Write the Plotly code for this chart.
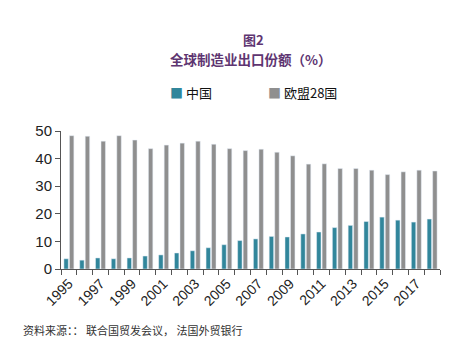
import plotly.graph_objects as go

years = [str(y) for y in range(1995, 2019)]
china = [3.7, 3.2, 4.0, 3.7, 4.0, 4.7, 5.1, 5.8, 6.6, 7.7, 8.8, 10.3,
         10.9, 11.8, 11.6, 12.7, 13.4, 15.0, 15.8, 17.2, 18.8, 17.7, 17.0, 18.1]
eu28 = [48.3, 48.1, 46.3, 48.3, 46.7, 43.6, 44.9, 45.6, 46.3, 45.2, 43.6, 42.9,
        43.4, 42.3, 41.0, 38.0, 38.1, 36.4, 36.4, 35.8, 34.2, 35.2, 35.8, 35.5]
tick_text = [y if (int(y) - 1995) % 2 == 0 else "" for y in years]
series_names = ["中国", "欧盟28国"]
series_colors = ["#31869b", "#8f8f8f"]

num_font = "Liberation Sans, Arial, sans-serif"
cjk_font = "Noto Sans CJK SC, sans-serif"

L, R, T, B, W, H = 61, 30, 131, 85, 470, 354
PW, PH = W - L - R, H - T - B


def px(x):
    return (x - L) / PW


def py(y):
    return (H - B - y) / PH


fig = go.Figure()
fig.add_trace(go.Bar(x=years, y=china, name=series_names[0], marker_color=series_colors[0]))
fig.add_trace(go.Bar(x=years, y=eu28, name=series_names[1], marker_color=series_colors[1]))

fig.update_layout(
    width=W, height=H,
    margin=dict(l=L, r=R, t=T, b=B),
    paper_bgcolor="white", plot_bgcolor="white",
    barmode="group", bargap=0.3, bargroupgap=0.2,
    font=dict(family=num_font, size=14, color="#222"),
    showlegend=False,
)

title_color = "#5e3571"
fig.add_annotation(text="<b>图2</b>", xref="paper", yref="paper", x=px(253), y=py(39.5),
                   showarrow=False, font=dict(family=cjk_font, size=13, color=title_color),
                   yanchor="middle", borderpad=0)
fig.add_annotation(text="<b>全球制造业出口份额（%）</b>", xref="paper", yref="paper", x=px(251), y=py(59),
                   showarrow=False, font=dict(family=cjk_font, size=13.5, color=title_color),
                   yanchor="middle", borderpad=0)
# legend built as annotations (small square markers like the reference)
for name, color, xl in zip(series_names, series_colors, [168, 266]):
    fig.add_annotation(text=f'<span style="color:{color}">■</span> {name}', xref="paper", yref="paper",
                       x=px(xl), xanchor="left", y=py(92), yanchor="middle", showarrow=False,
                       font=dict(family=cjk_font, size=13, color="#111"))
fig.add_annotation(text="资料来源：： 联合国贸发会议， 法国外贸银行", xref="paper", yref="paper",
                   x=px(21), xanchor="left", y=py(330), yanchor="middle",
                   showarrow=False, font=dict(family=cjk_font, size=11, color="#333"))

fig.update_xaxes(
    type="category", tickmode="array", tickvals=years, ticktext=tick_text,
    tickangle=-45, tickson="boundaries", ticks="outside", ticklen=5,
    tickcolor="#555", showline=True, linecolor="#555", linewidth=1,
    tickfont=dict(family=num_font, size=14, color="#222"), showgrid=False,
)
fig.update_yaxes(
    range=[0, 50], tickvals=[0, 10, 20, 30, 40, 50], ticks="outside", ticklen=5,
    tickcolor="#555", showline=True, linecolor="#555", linewidth=1,
    tickfont=dict(family=num_font, size=15, color="#222"), showgrid=False, zeroline=False,
)

fig.write_html("out.html")
